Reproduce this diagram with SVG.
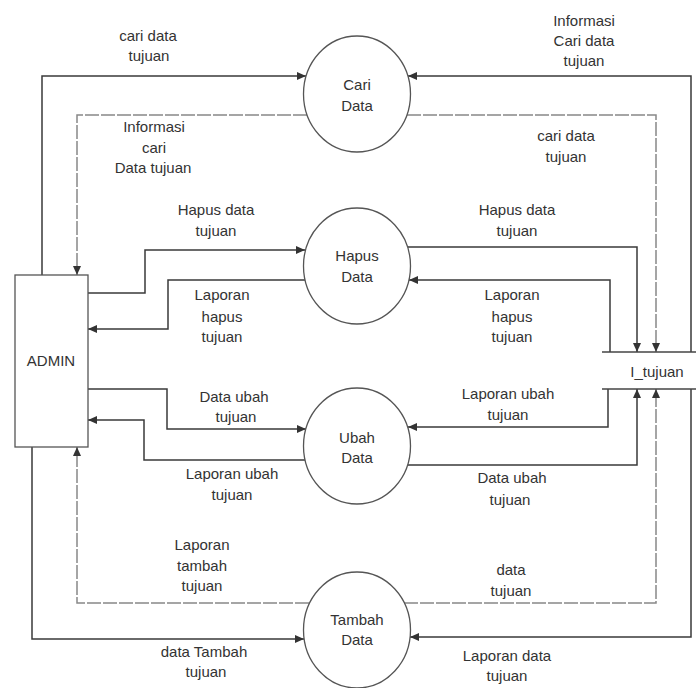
<svg xmlns="http://www.w3.org/2000/svg" width="696" height="688" viewBox="0 0 696 688">
<style>
text{font-family:"Liberation Sans",Arial,sans-serif;font-size:15px;fill:#333;text-anchor:middle}
.proc{fill:none;stroke:#555;stroke-width:1.3}
.ent{fill:none;stroke:#555;stroke-width:1.3}
.store{stroke:#444;stroke-width:1.4}
.c{fill:none;stroke:#3a3a3a;stroke-width:1.5;marker-end:url(#ah)}
.f{stroke:#888;stroke-dasharray:14 2}
</style>
<defs>
<marker id="ah" markerUnits="userSpaceOnUse" markerWidth="10" markerHeight="8" refX="9" refY="4" orient="auto">
<path d="M0,0 L9,4 L0,8 z" fill="#333"/>
</marker>
</defs>
<rect width="696" height="688" fill="#fff"/>
<g id="connectors">
<path class="c" d="M42,275 V76 H306"/>
<path class="c f" d="M307,115 H77 V275"/>
<path class="c" d="M88,293 H145 V250 H305"/>
<path class="c" d="M305,280 H168 V329 H88"/>
<path class="c" d="M88,389 H167 V429 H306"/>
<path class="c" d="M305,460 H144 V420 H88"/>
<path class="c f" d="M309,603 H77 V447"/>
<path class="c" d="M32,447 V639 H304"/>
<path class="c" d="M691,352 V76 H408"/>
<path class="c f" d="M407,115 H656 V352"/>
<path class="c" d="M408,247 H637 V352"/>
<path class="c" d="M610,352 V280 H409"/>
<path class="c" d="M608,389 V427 H408"/>
<path class="c" d="M408,465 H637 V389"/>
<path class="c f" d="M404,603 H656 V389"/>
<path class="c" d="M691,389 V637 H410"/>
</g>
<g id="labels">
<text x="148" y="41">cari data</text><text x="149" y="61">tujuan</text>
<text x="154" y="132">Informasi</text><text x="154" y="153">cari</text><text x="153" y="173">Data tujuan</text>
<text x="216" y="215">Hapus data</text><text x="216" y="236">tujuan</text>
<text x="222" y="300">Laporan</text><text x="222" y="322">hapus</text><text x="222" y="342">tujuan</text>
<text x="234" y="402">Data ubah</text><text x="236" y="422">tujuan</text>
<text x="232" y="479">Laporan ubah</text><text x="232" y="500">tujuan</text>
<text x="202" y="550">Laporan</text><text x="202" y="571">tambah</text><text x="202" y="591">tujuan</text>
<text x="204" y="657">data Tambah</text><text x="206" y="677">tujuan</text>
<text x="584" y="26">Informasi</text><text x="584" y="46">Cari data</text><text x="584" y="66">tujuan</text>
<text x="566" y="141">cari data</text><text x="566" y="162">tujuan</text>
<text x="517" y="215">Hapus data</text><text x="517" y="236">tujuan</text>
<text x="512" y="300">Laporan</text><text x="512" y="322">hapus</text><text x="512" y="342">tujuan</text>
<text x="508" y="399">Laporan ubah</text><text x="508" y="420">tujuan</text>
<text x="512" y="483">Data ubah</text><text x="510" y="505">tujuan</text>
<text x="511" y="575">data</text><text x="511" y="596">tujuan</text>
<text x="507" y="661">Laporan data</text><text x="507" y="681">tujuan</text>
</g>
<g id="admin">
<rect class="ent" x="15" y="275" width="73" height="172"/>
<text x="51" y="366">ADMIN</text>
</g>
<g id="cari-data">
<ellipse class="proc" cx="357" cy="94" rx="53.5" ry="58"/>
<text x="357" y="90">Cari</text><text x="357" y="111">Data</text>
</g>
<g id="hapus-data">
<ellipse class="proc" cx="357" cy="266" rx="53.5" ry="58"/>
<text x="357" y="261">Hapus</text><text x="357" y="282">Data</text>
</g>
<g id="ubah-data">
<ellipse class="proc" cx="357" cy="446" rx="53.5" ry="58"/>
<text x="357" y="443">Ubah</text><text x="357" y="463">Data</text>
</g>
<g id="tambah-data">
<ellipse class="proc" cx="357" cy="630" rx="53.5" ry="58"/>
<text x="357" y="625">Tambah</text><text x="357" y="645">Data</text>
</g>
<g id="store-tujuan">
<line class="store" x1="602" y1="352" x2="696" y2="352"/>
<line class="store" x1="602" y1="389" x2="696" y2="389"/>
<text x="657" y="377">I_tujuan</text>
</g>
</svg>
